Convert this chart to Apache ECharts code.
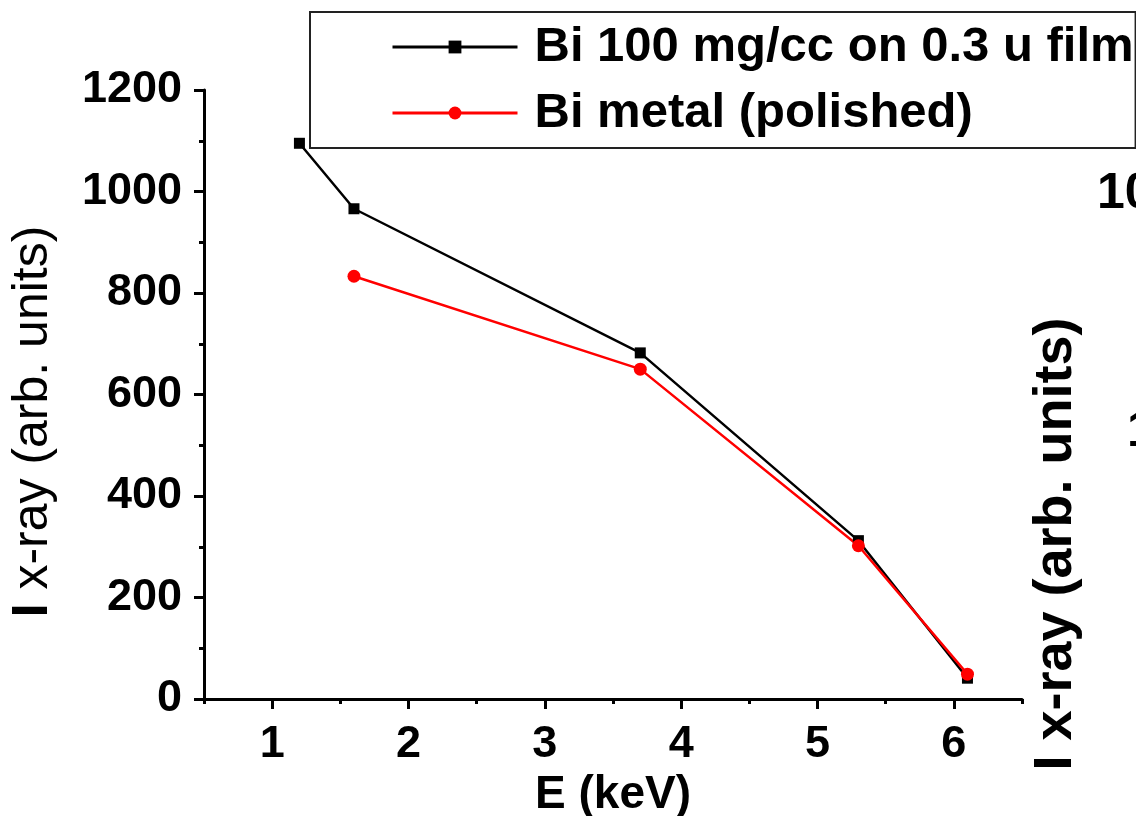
<!DOCTYPE html>
<html>
<head>
<meta charset="utf-8">
<script src="https://cdn.jsdelivr.net/npm/echarts@6/dist/echarts.min.js"></script>
<style>
html,body{margin:0;padding:0;background:#fff;}
#chart{width:1136px;height:816px;}
</style>
</head>
<body>
<div id="chart"></div>
<script>
// ---- data ----
const filmName = 'Bi 100 mg/cc on 0.3 u film';
const metalName = 'Bi metal (polished)';
const filmE = [1.2, 1.6, 3.7, 5.3, 6.1];
const filmI = [1095, 966, 682, 312, 41];
const metalE = [1.6, 3.7, 5.3, 6.1];
const metalI = [833, 650, 302, 49];
const xTickValues = [1, 2, 3, 4, 5, 6];
const xAxisName = 'E (keV)';
const yAxisNameBold = 'I';
const yAxisNameRest = ' x-ray (arb. units)';
const rightLabel = 'I x-ray (arb. units)';
const rightTickTop = '10';
const rightTickMid = '1';

const FONT = '"Liberation Sans", Arial, sans-serif';

const chart = echarts.init(document.getElementById('chart'), null, {renderer: 'canvas'});

const pair = (xs, ys) => xs.map((x, i) => [x, ys[i]]);

const option = {
  backgroundColor: '#fff',
  animation: false,
  textStyle: {fontFamily: FONT},
  grid: {left: 204, right: 114, top: 90, bottom: 117, containLabel: false, outerBoundsMode: 'none'},
  legend: {
    orient: 'vertical',
    left: 310,
    top: 12,
    padding: [7, 2, 7, 81],
    itemGap: 10,
    itemWidth: 125,
    itemHeight: 16,
    borderColor: '#222',
    borderWidth: 2,
    backgroundColor: '#fff',
    data: [filmName, metalName],
    lineStyle: {width: 3},
    textStyle: {
      fontFamily: FONT, fontSize: 49, fontWeight: 'bold', color: '#000',
      lineHeight: 56, padding: [0, 0, 0, 12]
    }
  },
  xAxis: [
    {
      type: 'value', min: 0.5, max: 6.5,
      name: xAxisName, nameLocation: 'middle', nameGap: 65,
      nameTextStyle: {fontFamily: FONT, fontSize: 46, fontWeight: 'bold', color: '#000'},
      axisLine: {show: true, lineStyle: {color: '#000', width: 3}},
      axisTick: {show: true, customValues: xTickValues, length: 10, lineStyle: {color: '#000', width: 3}},
      axisLabel: {customValues: xTickValues, margin: 23, fontFamily: FONT, fontSize: 45, fontWeight: 'bold', color: '#000'},
      splitLine: {show: false}
    },
    {
      type: 'value', min: 0.5, max: 6.5, interval: 0.5, position: 'bottom',
      axisLine: {show: false},
      axisTick: {show: true, length: 5, lineStyle: {color: '#000', width: 3}},
      axisLabel: {show: false},
      splitLine: {show: false}
    }
  ],
  yAxis: {
    type: 'value', min: 0, max: 1200, interval: 200,
    name: '{b|' + yAxisNameBold + '}' + yAxisNameRest,
    nameLocation: 'middle', nameGap: 146, nameRotate: 90,
    nameTextStyle: {
      fontFamily: FONT, fontSize: 50, color: '#000', padding: [0, 54, 0, 0],
      rich: {b: {fontFamily: FONT, fontSize: 50, fontWeight: 'bold', color: '#000'}}
    },
    axisLine: {show: true, lineStyle: {color: '#000', width: 3}},
    axisTick: {show: true, length: 10, lineStyle: {color: '#000', width: 3}},
    minorTick: {show: true, splitNumber: 2, length: 5, lineStyle: {color: '#000', width: 3}},
    axisLabel: {
      margin: 22, fontFamily: FONT, fontSize: 45, fontWeight: 'bold', color: '#000',
      formatter: (v) => String(v)
    },
    splitLine: {show: false}
  },
  series: [
    {
      name: filmName, type: 'line', xAxisIndex: 0,
      data: pair(filmE, filmI),
      symbol: 'rect', symbolSize: 11,
      itemStyle: {color: '#000'},
      lineStyle: {color: '#000', width: 2.5}
    },
    {
      name: metalName, type: 'line', xAxisIndex: 0,
      data: pair(metalE, metalI),
      symbol: 'circle', symbolSize: 13,
      itemStyle: {color: '#ff0000'},
      lineStyle: {color: '#ff0000', width: 2.5}
    }
  ],
  graphic: [
    {
      type: 'text', x: 1097, y: 194,
      style: {text: rightTickTop, font: 'bold 50px ' + FONT, fill: '#000', align: 'left', verticalAlign: 'middle'}
    },
    {
      type: 'text', x: 1127, y: 432,
      style: {text: rightTickMid, font: 'bold 50px ' + FONT, fill: '#000', align: 'left', verticalAlign: 'middle'}
    },
    {
      type: 'text', x: 1056, y: 544, rotation: Math.PI / 2,
      style: {text: rightLabel, font: 'bold 54px ' + FONT, fill: '#000', align: 'center', verticalAlign: 'middle'}
    }
  ]
};

chart.setOption(option);
</script>
</body>
</html>
